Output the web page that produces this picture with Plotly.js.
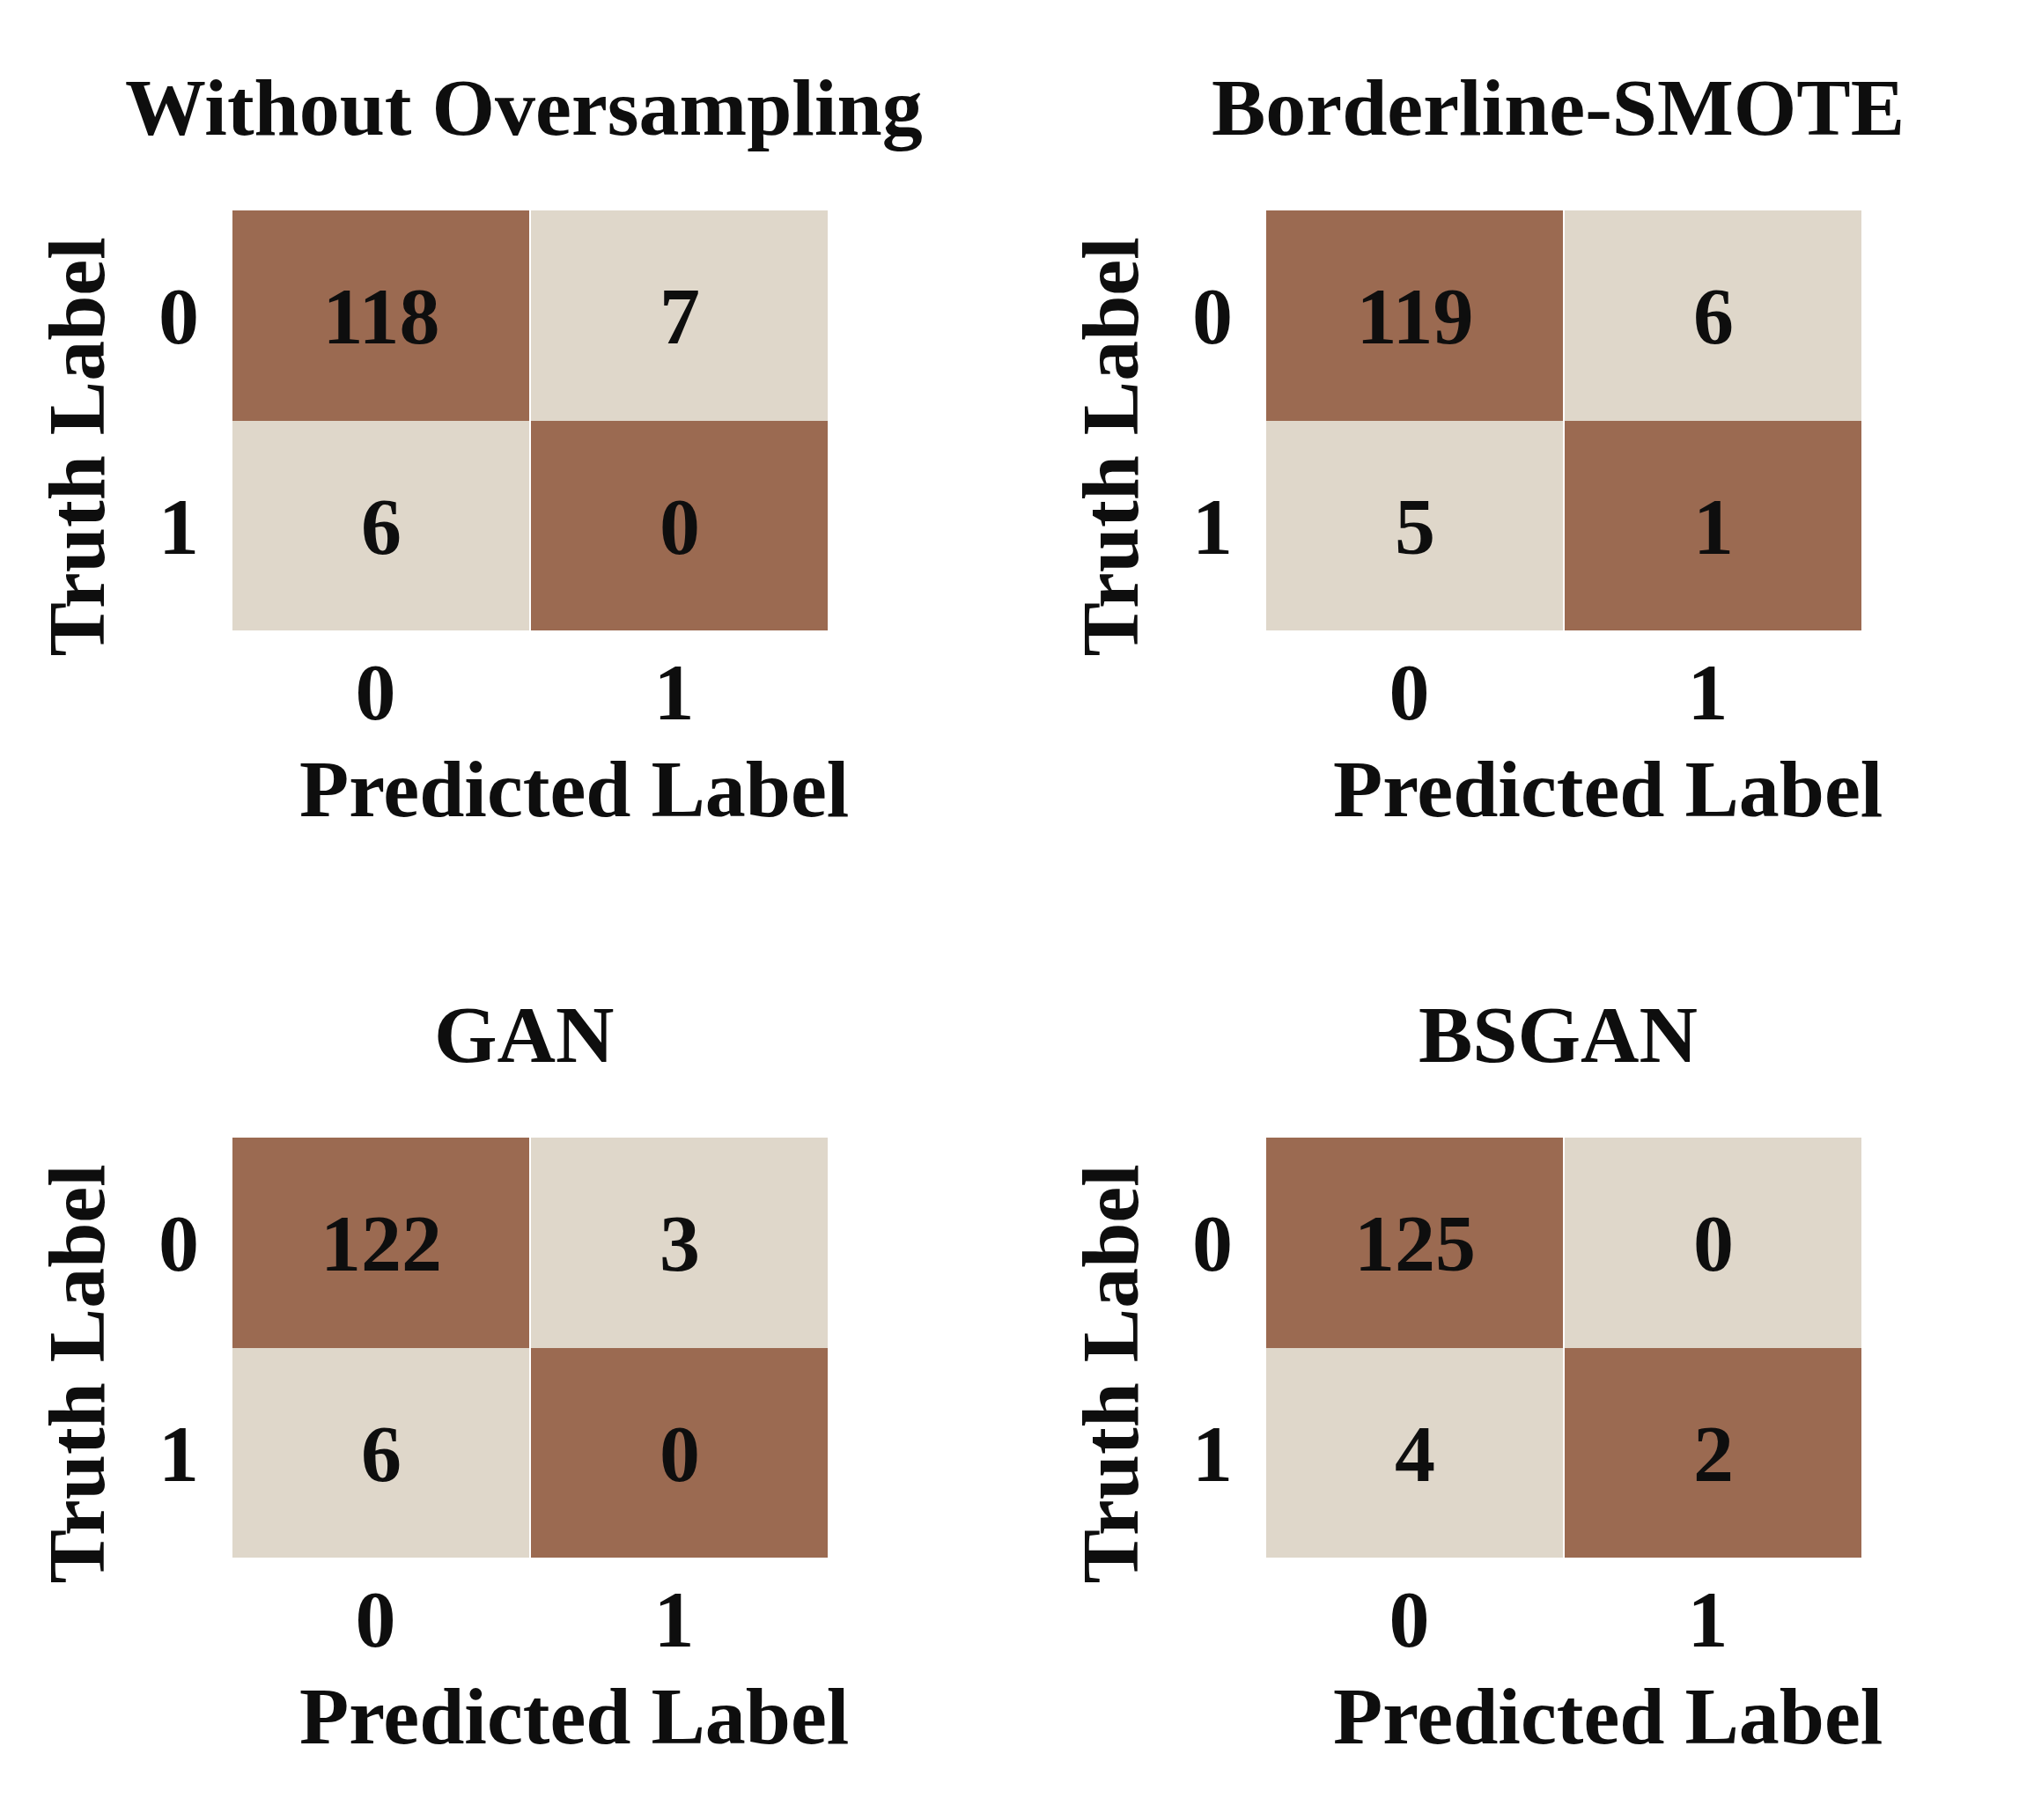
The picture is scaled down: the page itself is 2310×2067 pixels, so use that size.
<!DOCTYPE html>
<html>
<head>
<meta charset="utf-8">
<script src="https://cdn.plot.ly/plotly-3.0.1.min.js"></script>
<style>
  body { margin: 0; background: #fff; }
  #plot { width: 2310px; height: 2067px; }
</style>
</head>
<body>
<div id="plot"></div>
<script>
// confusion matrices, rows = truth, columns = predicted
const methods = ['Without Oversampling', 'Borderline-SMOTE', 'GAN', 'BSGAN'];
const classLabels = ['0', '1'];
const cmWithout = [[118, 7], [6, 0]];
const cmBorderline = [[119, 6], [5, 1]];
const cmGan = [[122, 3], [6, 0]];
const cmBsgan = [[125, 0], [4, 2]];
const matrices = [cmWithout, cmBorderline, cmGan, cmBsgan];

const darkColor = '#9b6a51';
const lightColor = '#dfd7ca';
const inkColor = '#0e0e0e';
const fontFamily = '"Liberation Serif", "Times New Roman", serif';
const fontSize = 92;

const W = 2310, H = 2067;
// pixel boxes of the four heatmaps
const colLeft = [263, 1437];
const rowTop = [239, 1292];
const cellW = 678, cellH = 477;

function px(x) { return x / W; }
function py(y) { return 1 - y / H; }

function baseFont() {
    return { family: fontFamily, size: fontSize, color: inkColor, weight: 'bold' };
}

function draw() {
    const data = [];
    const annotations = [];
    const layout = {
        width: W,
        height: H,
        margin: { l: 0, r: 0, t: 0, b: 0 },
        paper_bgcolor: '#ffffff',
        plot_bgcolor: '#ffffff',
        showlegend: false,
        font: baseFont()
    };

    for (let i = 0; i < matrices.length; ++i) {
        const col = i % 2;
        const row = Math.floor(i / 2);
        const suffix = i === 0 ? '' : String(i + 1);
        const left = colLeft[col];
        const top = rowTop[row];

        // diagonal cells are dark, off-diagonal light
        const mask = matrices[i].map((r, ri) => r.map((v, ci) => (ri === ci ? 1 : 0)));

        data.push({
            type: 'heatmap',
            x: classLabels,
            y: classLabels,
            z: mask,
            text: matrices[i],
            texttemplate: '%{text}',
            textfont: baseFont(),
            colorscale: [[0, lightColor], [1, darkColor]],
            zmin: 0,
            zmax: 1,
            showscale: false,
            xgap: 2,
            ygap: 0,
            hoverinfo: 'skip',
            xaxis: 'x' + suffix,
            yaxis: 'y' + suffix
        });

        layout['xaxis' + suffix] = {
            domain: [px(left), px(left + cellW)],
            anchor: 'y' + suffix,
            type: 'category',
            showgrid: false,
            zeroline: false,
            showline: false,
            ticks: '',
            ticklabelstandoff: 8,
            ticklabelshift: -6,
            tickfont: baseFont(),
            fixedrange: true
        };
        layout['yaxis' + suffix] = {
            domain: [py(top + cellH), py(top)],
            anchor: 'x' + suffix,
            type: 'category',
            autorange: 'reversed',
            showgrid: false,
            zeroline: false,
            showline: false,
            ticks: '',
            ticklabelstandoff: 36,
            tickfont: baseFont(),
            fixedrange: true
        };

        // subplot title
        annotations.push({
            text: methods[i],
            xref: 'paper', yref: 'paper',
            x: px(left + cellW / 2 - 7), y: py(top - 117),
            xanchor: 'center', yanchor: 'middle',
            showarrow: false,
            font: baseFont()
        });
        // x axis title
        annotations.push({
            text: 'Predicted Label',
            xref: 'paper', yref: 'paper',
            x: px(left + cellW / 2 + 50), y: py(top + cellH + 180),
            xanchor: 'center', yanchor: 'middle',
            showarrow: false,
            font: baseFont()
        });
        // y axis title
        annotations.push({
            text: 'Truth Label',
            xref: 'paper', yref: 'paper',
            x: px(left - 177), y: py(top + cellH / 2 + 30),
            xanchor: 'center', yanchor: 'middle',
            textangle: -90,
            showarrow: false,
            font: baseFont()
        });
    }

    layout.annotations = annotations;
    Plotly.newPlot('plot', data, layout, { staticPlot: true });
}

draw();
</script>
</body>
</html>
